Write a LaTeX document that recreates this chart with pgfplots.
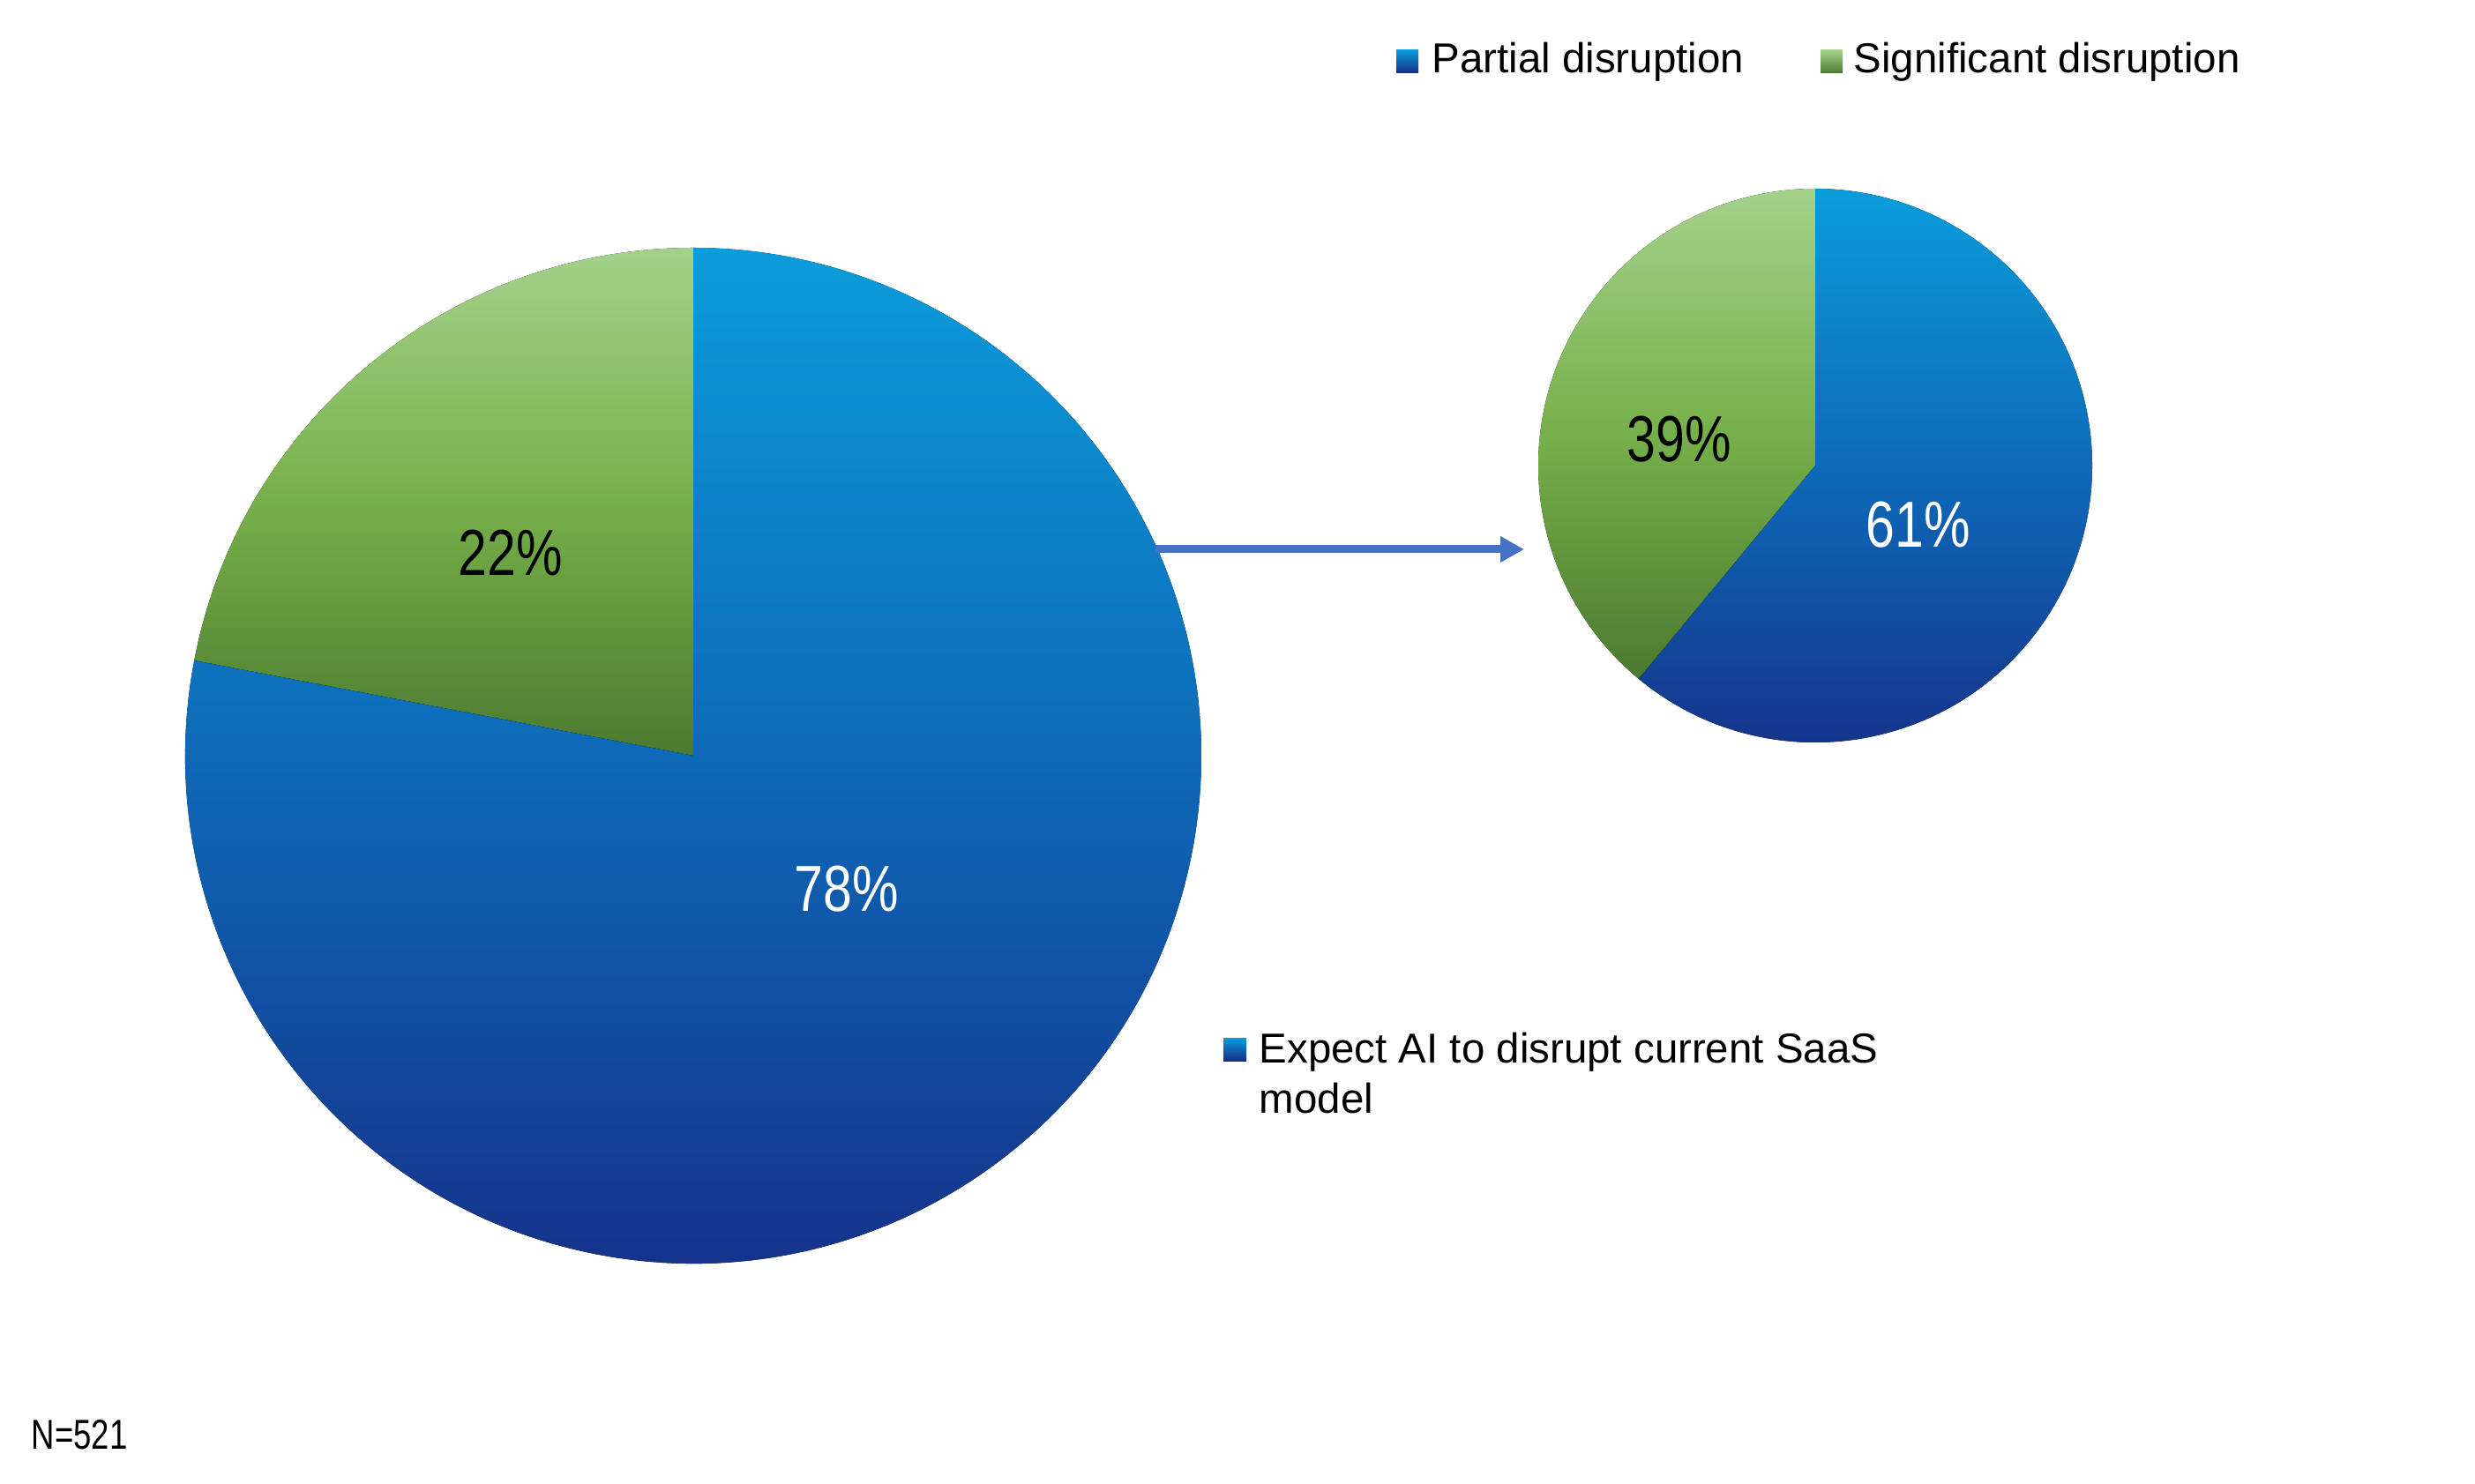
\documentclass[border=0pt]{standalone}
\usepackage{pgfplots}
\pgfplotsset{compat=1.18}
\usepackage{pgfplotstable}
\usepackage{graphicx}
\usepackage{fontspec}
\setmainfont{Liberation Sans}
\usetikzlibrary{arrows.meta}

\definecolor{bluetop}{HTML}{0B9CDB}
\definecolor{bluemid}{HTML}{0E67B6}
\definecolor{bluebot}{HTML}{162E86}
\definecolor{greentop}{HTML}{A5D18B}
\definecolor{greenmid}{HTML}{76B04A}
\definecolor{greenbot}{HTML}{4C7A30}
\definecolor{arrowblue}{HTML}{4472C4}

\pgfplotstableread{
slice value
Partial 78
Significant 22
}\bigpie
\pgfplotstableread{
slice value
Partial 61
Significant 39
}\smallpie

\pgfplotstablegetelem{1}{value}\of\bigpie
\pgfmathsetmacro\bigEnd{90+3.6*\pgfplotsretval}
\pgfplotstablegetelem{1}{value}\of\smallpie
\pgfmathsetmacro\smallEnd{90+3.6*\pgfplotsretval}

\newcommand{\lbl}[1]{\scalebox{0.8}[1]{\fontsize{21}{25}\selectfont #1}}

\begin{document}
\begin{tikzpicture}
\begin{axis}[
  width=280.6mm, height=168.2mm, scale only axis,
  xmin=0, xmax=2806, ymin=0, ymax=1682,
  hide axis, clip=false,
]
\path (axis cs:0,0) rectangle (axis cs:2806,1682);
% big pie: centre (786,825), r = 576 units = 57.6mm
\fill[top color=greentop, bottom color=greenbot, middle color=greenmid]
  (axis cs:786,825) -- (axis cs:786,1401)
  arc[start angle=90, end angle=\bigEnd, radius=57.6mm] -- cycle;
\fill[top color=bluetop, bottom color=bluebot, middle color=bluemid]
  (axis cs:786,825) -- ++(\bigEnd:57.6mm)
  arc[start angle=\bigEnd, end angle=450, radius=57.6mm] -- cycle;
% small pie: centre (2058,1154), r = 314 units = 31.4mm
\fill[top color=greentop, bottom color=greenbot, middle color=greenmid]
  (axis cs:2058,1154) -- (axis cs:2058,1468)
  arc[start angle=90, end angle=\smallEnd, radius=31.4mm] -- cycle;
\fill[top color=bluetop, bottom color=bluebot, middle color=bluemid]
  (axis cs:2058,1154) -- ++(\smallEnd:31.4mm)
  arc[start angle=\smallEnd, end angle=450, radius=31.4mm] -- cycle;

% arrow
\draw[arrowblue, line width=0.9mm, -{Triangle[length=2.7mm,width=2.8mm]}]
  (axis cs:1310,1059) -- (axis cs:1728,1059);

% labels
\node[black] at (axis cs:579,1055) {\lbl{22\%}};
\node[white] at (axis cs:960,674) {\lbl{78\%}};
\node[black] at (axis cs:1904,1184) {\lbl{39\%}};
\node[white] at (axis cs:2175,1087) {\lbl{61\%}};

% legend
\fill[top color=bluetop, bottom color=bluebot] (axis cs:1583,1599) rectangle (axis cs:1608,1625);
\node[anchor=base west, inner sep=0pt, font=\fontsize{13.5}{16}\selectfont] at (axis cs:1623,1599) {Partial disruption};
\fill[top color=greentop, bottom color=greenbot] (axis cs:2064,1599) rectangle (axis cs:2089,1625);
\node[anchor=base west, inner sep=0pt, font=\fontsize{13.5}{16}\selectfont] at (axis cs:2101,1599) {Significant disruption};

\fill[top color=bluetop, bottom color=bluebot] (axis cs:1387,479) rectangle (axis cs:1413,505);
\node[anchor=base west, inner sep=0pt, font=\fontsize{13.5}{16}\selectfont] at (axis cs:1427,477) {Expect AI to disrupt current SaaS};
\node[anchor=base west, inner sep=0pt, font=\fontsize{13.5}{16}\selectfont] at (axis cs:1427,420) {model};

% footnote
\node[anchor=base west, inner sep=0pt] at (axis cs:35,39) {\scalebox{0.77}[1]{\fontsize{13.5}{16}\selectfont N=521}};
\end{axis}
\end{tikzpicture}
\end{document}
